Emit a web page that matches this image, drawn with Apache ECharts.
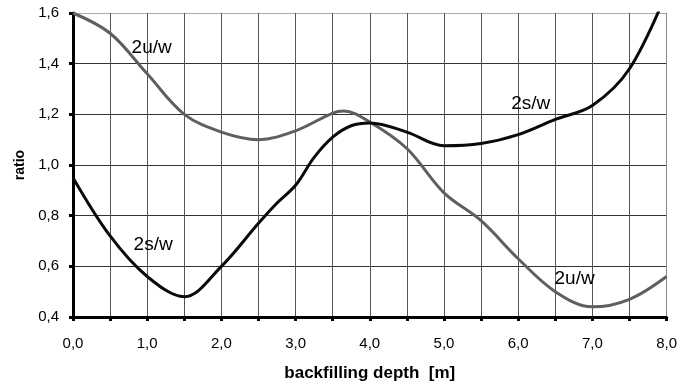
<!DOCTYPE html>
<html>
<head>
<meta charset="utf-8">
<script src="https://cdn.jsdelivr.net/npm/echarts@6/dist/echarts.min.js"></script>
<style>
  html, body { margin: 0; padding: 0; background: #fff; }
  #chart { width: 680px; height: 387px; }
</style>
</head>
<body>
<div id="chart"></div>
<script>
// 2u/w ratio (grey curve): depth [m] / value
const depthU = [0, 0.5, 1.0, 1.5, 2.0, 2.5, 3.0, 3.5, 3.65, 4.0, 4.5, 5.0, 5.5, 6.0, 6.5, 7.0, 7.5, 8.0];
const ratioU = [1.60, 1.52, 1.36, 1.20, 1.13, 1.10, 1.135, 1.205, 1.213, 1.17, 1.065, 0.89, 0.78, 0.63, 0.50, 0.44, 0.47, 0.56];
// 2s/w ratio (black curve)
const depthS = [0, 0.5, 1.0, 1.5, 2.0, 2.5, 2.75, 3.0, 3.25, 3.5, 3.75, 4.0, 4.5, 5.0, 5.5, 6.0, 6.5, 7.0, 7.5, 8.0];
const ratioS = [0.95, 0.72, 0.56, 0.48, 0.60, 0.77, 0.85, 0.92, 1.03, 1.11, 1.155, 1.166, 1.13, 1.076, 1.085, 1.12, 1.18, 1.235, 1.38, 1.68];

// curve labels: [text, x, y]
const curveLabels = [
  ['2u/w', 1.06, 1.463],
  ['2s/w', 1.08, 0.686],
  ['2s/w', 6.17, 1.24],
  ['2u/w', 6.76, 0.549]
];

const fmt = v => v.toFixed(1).replace('.', ',');

const chart = echarts.init(document.getElementById('chart'));

function pairs(xs, ys) {
  return xs.map((x, i) => [x, ys[i]]);
}

// gridline colours: outer frame lines (top, right) are lighter
const xGridColors = [];
for (let i = 0; i < 16; i++) xGridColors.push('#555');
xGridColors.push('#888');
const yGridColors = ['#333', '#333', '#333', '#333', '#333', '#333', '#aaa'];

const option = {
  animation: false,
  backgroundColor: '#fff',
  textStyle: { fontFamily: 'Liberation Sans, Arial, sans-serif' },
  grid: { left: 73, right: 13, top: 13, bottom: 67 },
  xAxis: {
    type: 'value',
    min: 0,
    max: 8,
    interval: 0.5,
    name: 'backfilling depth  [m]',
    nameLocation: 'middle',
    nameGap: 48,
    nameTextStyle: { color: '#000', fontSize: 17, fontWeight: 'bold' },
    axisLine: { lineStyle: { color: '#000', width: 3 } },
    axisTick: { show: true, length: 4, lineStyle: { color: '#000', width: 3 } },
    axisLabel: {
      color: '#000',
      fontSize: 15,
      margin: 19,
      formatter: v => (Math.abs(v - Math.round(v)) < 1e-6 ? fmt(v) : '')
    },
    splitLine: { show: true, lineStyle: { color: xGridColors, width: 1 } }
  },
  yAxis: {
    type: 'value',
    min: 0.4,
    max: 1.6,
    interval: 0.2,
    name: 'ratio',
    nameLocation: 'middle',
    nameRotate: 90,
    nameGap: 46,
    nameTextStyle: { color: '#000', fontSize: 14, fontWeight: 'bold' },
    axisLine: { show: true, lineStyle: { color: '#000', width: 3 } },
    axisTick: { show: true, length: 4, lineStyle: { color: '#000', width: 3 } },
    axisLabel: { color: '#000', fontSize: 15, margin: 14, formatter: v => fmt(v) },
    splitLine: { show: true, lineStyle: { color: yGridColors, width: 1 } }
  },
  series: [
    {
      name: '2u/w',
      type: 'line',
      smooth: 0.35,
      symbol: 'none',
      clip: true,
      lineStyle: { color: '#5f5f5f', width: 3 },
      data: pairs(depthU, ratioU)
    },
    {
      name: '2s/w',
      type: 'line',
      smooth: 0.35,
      symbol: 'none',
      clip: true,
      lineStyle: { color: '#0a0a0a', width: 3 },
      data: pairs(depthS, ratioS)
    }
  ]
};

chart.setOption(option);

// place curve labels using the axis scales
chart.setOption({
  graphic: curveLabels.map(l => {
    const p = chart.convertToPixel({ gridIndex: 0 }, [l[1], l[2]]);
    return {
      type: 'text',
      x: p[0],
      y: p[1],
      style: {
        text: l[0],
        fill: '#000',
        font: '19px Liberation Sans, Arial, sans-serif',
        align: 'center',
        verticalAlign: 'middle'
      }
    };
  })
});
</script>
</body>
</html>
